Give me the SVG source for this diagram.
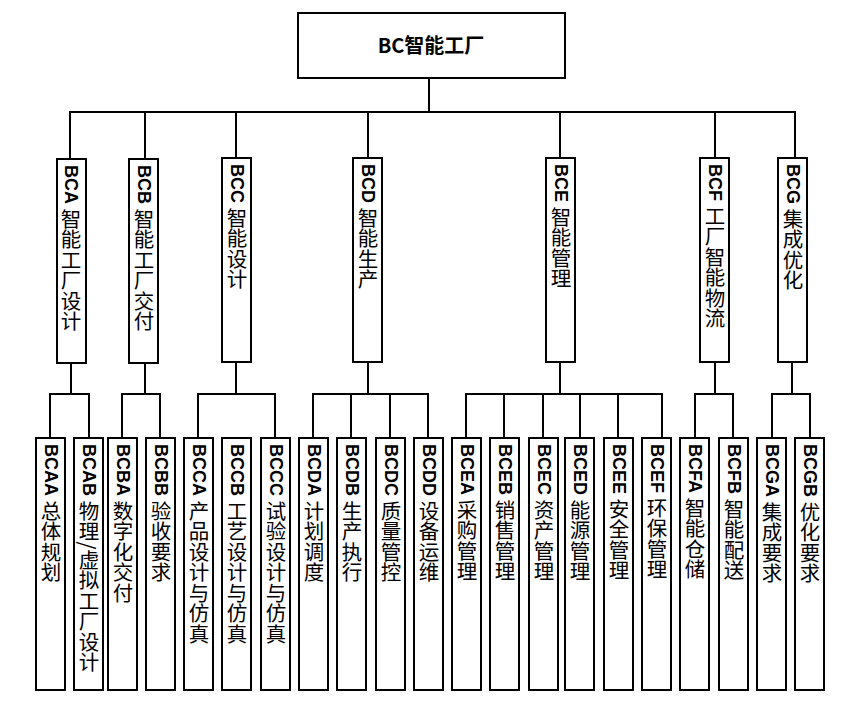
<svg xmlns="http://www.w3.org/2000/svg" width="861" height="705" viewBox="0 0 861 705">
<style>
rect{fill:#fff;stroke:#000;stroke-width:2}
#connectors path{fill:none;stroke:#000;stroke-width:2}
text{font-family:"Noto Sans CJK SC","Liberation Sans",sans-serif;font-size:20.5px;fill:#000}
.v{writing-mode:vertical-rl;text-orientation:mixed}
.b{font-weight:bold;font-family:"Liberation Sans","Noto Sans CJK SC",sans-serif;font-size:18px}
</style>
<rect width="861" height="705" style="fill:#fff;stroke:none"/>
<g id="connectors">
<path d="M429 78V112M70 159V112H795V158M145 112V159M236 112V158M368 112V158M560 112V158M715 112V158"/>
<path d="M71 363V394M50 438V394H89V438"/>
<path d="M145 363V394M122 438V394H160V438"/>
<path d="M236 362V394M198 438V394H275V438"/>
<path d="M368 362V394M313 438V394H428V438M351 394V438M390 394V438"/>
<path d="M560 362V394M466 438V394H662V438M504 394V438M543 394V438M580 394V438M618 394V438"/>
<path d="M715 362V394M695 438V394H733V438"/>
<path d="M792 362V394M772 438V394H810V438"/>
</g>
<g id="root"><rect x="298" y="13" width="267" height="65"/><text x="431" y="53" text-anchor="middle" style="font-weight:bold;font-size:20px">BC智能工厂</text></g>
<g id="BCA"><rect x="57" y="159" width="29" height="204"/><text class="v" x="71" y="165"><tspan class="b">BCA</tspan> 智能工厂设计</text></g>
<g id="BCB"><rect x="129" y="159" width="29" height="204"/><text class="v" x="144" y="165"><tspan class="b">BCB</tspan> 智能工厂交付</text></g>
<g id="BCC"><rect x="222" y="158" width="29" height="204"/><text class="v" x="237" y="164"><tspan class="b">BCC</tspan> 智能设计</text></g>
<g id="BCD"><rect x="353" y="158" width="29" height="204"/><text class="v" x="368" y="164"><tspan class="b">BCD</tspan> 智能生产</text></g>
<g id="BCE"><rect x="546" y="158" width="29" height="204"/><text class="v" x="561" y="164"><tspan class="b">BCE</tspan> 智能管理</text></g>
<g id="BCF"><rect x="700" y="158" width="29" height="204"/><text class="v" x="715" y="164"><tspan class="b">BCF</tspan> 工厂智能物流</text></g>
<g id="BCG"><rect x="778" y="158" width="29" height="204"/><text class="v" x="793" y="164"><tspan class="b">BCG</tspan> 集成优化</text></g>
<g id="BCAA"><rect x="36" y="438" width="29" height="252"/><text class="v" x="51" y="444"><tspan class="b">BCAA</tspan> 总体规划</text></g>
<g id="BCAB"><rect x="74" y="438" width="29" height="252"/><text class="v" x="89" y="444"><tspan class="b">BCAB</tspan> 物理/虚拟工厂设计</text></g>
<g id="BCBA"><rect x="108" y="438" width="29" height="252"/><text class="v" x="123" y="444"><tspan class="b">BCBA</tspan> 数字化交付</text></g>
<g id="BCBB"><rect x="146" y="438" width="29" height="252"/><text class="v" x="161" y="444"><tspan class="b">BCBB</tspan> 验收要求</text></g>
<g id="BCCA"><rect x="184" y="438" width="29" height="252"/><text class="v" x="199" y="444"><tspan class="b">BCCA</tspan> 产品设计与仿真</text></g>
<g id="BCCB"><rect x="222" y="438" width="29" height="252"/><text class="v" x="237" y="444"><tspan class="b">BCCB</tspan> 工艺设计与仿真</text></g>
<g id="BCCC"><rect x="261" y="438" width="29" height="252"/><text class="v" x="276" y="444"><tspan class="b">BCCC</tspan> 试验设计与仿真</text></g>
<g id="BCDA"><rect x="299" y="438" width="29" height="252"/><text class="v" x="314" y="444"><tspan class="b">BCDA</tspan> 计划调度</text></g>
<g id="BCDB"><rect x="337" y="438" width="29" height="252"/><text class="v" x="352" y="444"><tspan class="b">BCDB</tspan> 生产执行</text></g>
<g id="BCDC"><rect x="376" y="438" width="29" height="252"/><text class="v" x="391" y="444"><tspan class="b">BCDC</tspan> 质量管控</text></g>
<g id="BCDD"><rect x="414" y="438" width="29" height="252"/><text class="v" x="429" y="444"><tspan class="b">BCDD</tspan> 设备运维</text></g>
<g id="BCEA"><rect x="452" y="438" width="29" height="252"/><text class="v" x="467" y="444"><tspan class="b">BCEA</tspan> 采购管理</text></g>
<g id="BCEB"><rect x="490" y="438" width="29" height="252"/><text class="v" x="505" y="444"><tspan class="b">BCEB</tspan> 销售管理</text></g>
<g id="BCEC"><rect x="529" y="438" width="29" height="252"/><text class="v" x="544" y="444"><tspan class="b">BCEC</tspan> 资产管理</text></g>
<g id="BCED"><rect x="565" y="438" width="29" height="252"/><text class="v" x="580" y="444"><tspan class="b">BCED</tspan> 能源管理</text></g>
<g id="BCEE"><rect x="604" y="438" width="29" height="252"/><text class="v" x="619" y="444"><tspan class="b">BCEE</tspan> 安全管理</text></g>
<g id="BCEF"><rect x="642" y="438" width="29" height="252"/><text class="v" x="657" y="444"><tspan class="b">BCEF</tspan> 环保管理</text></g>
<g id="BCFA"><rect x="680" y="438" width="29" height="252"/><text class="v" x="695" y="444"><tspan class="b">BCFA</tspan> 智能仓储</text></g>
<g id="BCFB"><rect x="719" y="438" width="29" height="252"/><text class="v" x="734" y="444"><tspan class="b">BCFB</tspan> 智能配送</text></g>
<g id="BCGA"><rect x="757" y="438" width="29" height="252"/><text class="v" x="772" y="444"><tspan class="b">BCGA</tspan> 集成要求</text></g>
<g id="BCGB"><rect x="795" y="438" width="29" height="252"/><text class="v" x="810" y="444"><tspan class="b">BCGB</tspan> 优化要求</text></g>
</svg>
